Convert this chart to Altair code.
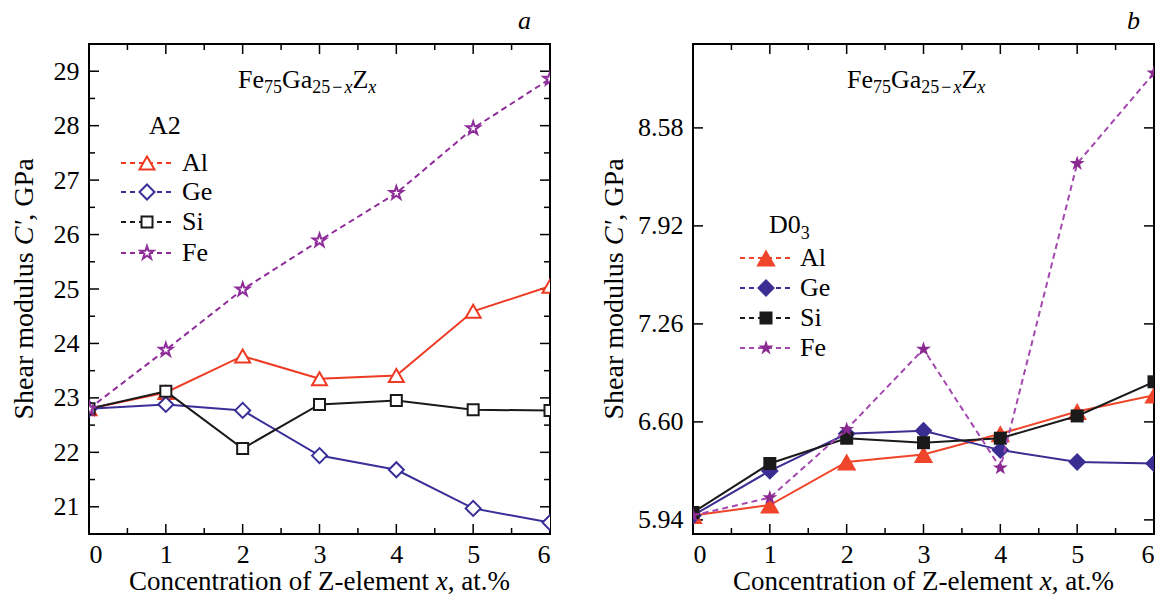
import altair as alt
import pandas as pd

# ---------------- data ----------------
x_vals = [0, 1, 2, 3, 4, 5, 6]
series_names = ["Al", "Ge", "Si", "Fe"]

# panel a (A2 structure)
a_al = [22.80, 23.10, 23.77, 23.35, 23.41, 24.59, 25.05]
a_ge = [22.80, 22.88, 22.77, 21.94, 21.68, 20.97, 20.71]
a_si = [22.80, 23.12, 22.07, 22.88, 22.95, 22.78, 22.77]
a_fe = [22.80, 23.88, 24.99, 25.89, 26.76, 27.95, 28.86]

# panel b (D0_3 structure)
b_al = [5.97, 6.04, 6.33, 6.38, 6.52, 6.67, 6.78]
b_ge = [5.97, 6.27, 6.52, 6.54, 6.41, 6.33, 6.32]
b_si = [5.99, 6.32, 6.49, 6.46, 6.49, 6.64, 6.87]
b_fe = [5.97, 6.09, 6.55, 7.09, 6.29, 8.34, 8.95]

a_y_ticks = [21, 22, 23, 24, 25, 26, 27, 28, 29]
a_y_minor = [20.5, 21.5, 22.5, 23.5, 24.5, 25.5, 26.5, 27.5, 28.5, 29.5]
b_y_ticks = [5.94, 6.60, 7.26, 7.92, 8.58]
x_minor = [0.5, 1.5, 2.5, 3.5, 4.5, 5.5]

x_title = ["Concentration of Z-element ", "x", ", at.%"]
y_title = ["Shear modulus ", "C'", ", GPa"]

# ---------------- style ----------------
W, H = 461, 490
FONT = "Liberation Serif"
STAR = ("M0,-1L0.2245,-0.309L0.951,-0.309L0.3633,0.118L0.5878,0.809L0,0.382"
        "L-0.5878,0.809L-0.3633,0.118L-0.951,-0.309L-0.2245,-0.309Z")

ROMAN = {' ': 250, "'": 180, '%': 833, ',': 250, '-': 333, '.': 250, 'A': 722,
         'C': 667, 'D': 722, 'F': 556, 'G': 722, 'P': 556, 'S': 556, 'Z': 611,
         'a': 444, 'c': 444, 'd': 500, 'e': 444, 'f': 333, 'h': 500, 'i': 278,
         'l': 278, 'm': 778, 'n': 500, 'o': 500, 'r': 333, 's': 389, 't': 278,
         'u': 500, 'x': 500, '\u2212': 564}
ITALIC = {'x': 444, 'C': 667, "'": 214, 'a': 500}


def tw(s, size, italic=False):
    tab = ITALIC if italic else ROMAN
    return sum(tab.get(ch, ROMAN.get(ch, 500)) for ch in s) * size / 1000.0


ONE = pd.DataFrame({"k": [0]})


def txt(s, x, y, size=26, italic=False, angle=0, align="left"):
    kw = dict(text=s, font=FONT, fontSize=size, color="black", align=align,
              baseline="alphabetic")
    if italic:
        kw["fontStyle"] = "italic"
    if angle:
        kw["angle"] = angle
    return alt.Chart(ONE).mark_text(**kw).encode(x=alt.value(x), y=alt.value(y))


def run(pieces, x0, y0, angle=0):
    """pieces: (text, size, italic, shift, gap_before)"""
    layers, off = [], 0.0
    for s, size, it, shift, gap in pieces:
        off += gap
        if angle == 0:
            layers.append(txt(s, x0 + off, y0 + shift, size, it))
        else:
            layers.append(txt(s, x0 + shift, y0 - off, size, it, angle=270))
        off += tw(s, size, it)
    return layers


def width_of(pieces):
    return sum(tw(s, size, it) + gap for s, size, it, shift, gap in pieces)


def formula_pieces():
    return [("Fe", 26, False, 0, 0), ("75", 18, False, 5, 0),
            ("Ga", 26, False, 0, 0), ("25", 18, False, 5, 0),
            ("\u2212", 18, False, 5, 2), ("x", 18, True, 5, 2),
            ("Z", 26, False, 0, 0), ("x", 18, True, 5, 0)]


def make_panel(vals, colors, line_colors, dashes, shapes, sizes, filled,
               y_dom, y_major, y_minor, y_fmt, leg, head, tag, tag_x, ytx):
    xs = alt.Scale(domain=[0, 6], nice=False, zero=False)
    ys = alt.Scale(domain=y_dom, nice=False, zero=False)
    yax = alt.Axis(values=y_major, format=y_fmt, title=None, ticks=False, domain=False,
                   grid=False, labelPadding=10, labelFont=FONT, labelFontSize=26,
                   labelColor="black")
    xax = alt.Axis(values=x_vals, format="d", title=None, ticks=False, domain=False,
                   grid=False, labelPadding=7, labelFont=FONT, labelFontSize=26,
                   labelColor="black")

    def X(f):
        return alt.X(f, scale=xs, axis=xax)

    def Y(f):
        return alt.Y(f, scale=ys, axis=yax)

    layers = []
    # tick marks (inside, mirrored)
    ymaj = pd.DataFrame({"v": y_major})
    xmaj = pd.DataFrame({"v": x_vals})
    rk = dict(color="black", strokeWidth=1.5)
    layers.append(alt.Chart(ymaj).mark_rule(**rk).encode(
        y=Y("v:Q"), x=alt.value(0), x2=alt.value(10)))
    layers.append(alt.Chart(ymaj).mark_rule(**rk).encode(
        y=Y("v:Q"), x=alt.value(W - 10), x2=alt.value(W)))
    if y_minor:
        ymin = pd.DataFrame({"v": y_minor})
        layers.append(alt.Chart(ymin).mark_rule(**rk).encode(
            y=Y("v:Q"), x=alt.value(0), x2=alt.value(6)))
        layers.append(alt.Chart(ymin).mark_rule(**rk).encode(
            y=Y("v:Q"), x=alt.value(W - 6), x2=alt.value(W)))
    layers.append(alt.Chart(xmaj).mark_rule(**rk).encode(
        x=X("v:Q"), y=alt.value(H - 10), y2=alt.value(H)))
    layers.append(alt.Chart(xmaj).mark_rule(**rk).encode(
        x=X("v:Q"), y=alt.value(0), y2=alt.value(10)))
    xmin = pd.DataFrame({"v": x_minor})
    layers.append(alt.Chart(xmin).mark_rule(**rk).encode(
        x=X("v:Q"), y=alt.value(H - 6), y2=alt.value(H)))
    layers.append(alt.Chart(xmin).mark_rule(**rk).encode(
        x=X("v:Q"), y=alt.value(0), y2=alt.value(6)))

    # data series
    for i, name in enumerate(series_names):
        d = pd.DataFrame({"x": x_vals, "v": vals[i]})
        lkw = dict(color=line_colors[i], strokeWidth=2, clip=True)
        if dashes[i]:
            lkw["strokeDash"] = dashes[i]
        layers.append(alt.Chart(d).mark_line(**lkw).encode(x=X("x:Q"), y=Y("v:Q")))
        if filled:
            pkw = dict(shape=shapes[i], size=sizes[i], filled=True, color=colors[i],
                       opacity=1, strokeWidth=1, clip=True)
        else:
            pkw = dict(shape=shapes[i], size=sizes[i], filled=False, stroke=colors[i],
                       fill="white", fillOpacity=1, opacity=1, strokeWidth=2, clip=True)
        layers.append(alt.Chart(d).mark_point(**pkw).encode(x=X("x:Q"), y=Y("v:Q")))

    # in-plot legend
    lx0, lx1, mx, tx, rows = leg["lx0"], leg["lx1"], leg["mx"], leg["tx"], leg["rows"]
    for i, name in enumerate(series_names):
        ry = rows[i]
        layers.append(alt.Chart(ONE).mark_rule(color=line_colors[i], strokeWidth=2,
                                               strokeDash=[5, 4]).encode(
            x=alt.value(lx0), x2=alt.value(lx1), y=alt.value(ry)))
        if filled:
            pkw = dict(shape=shapes[i], size=sizes[i], filled=True, color=colors[i],
                       opacity=1, strokeWidth=1)
        else:
            pkw = dict(shape=shapes[i], size=sizes[i], filled=False, stroke=colors[i],
                       fill="white", fillOpacity=1, opacity=1, strokeWidth=2)
        layers.append(alt.Chart(ONE).mark_point(**pkw).encode(
            x=alt.value(mx), y=alt.value(ry)))
        layers.append(txt(name, tx, ry + 8, 26))
    layers += run(leg["title"], leg["title_x"], leg["title_y"])

    # formula header
    layers += run(formula_pieces(), head[0], head[1])
    # panel tag
    layers.append(txt(tag, tag_x, -15, 26, italic=True, align="right"))

    # axis titles composed with italics
    xt = [(x_title[0], 27, False, 0, 0), (x_title[1], 27, True, 0, 0),
          (x_title[2], 27, False, 0, 0)]
    layers += run(xt, W / 2 - width_of(xt) / 2, 546)
    yt = [(y_title[0], 28, False, 0, 0), (y_title[1], 28, True, 0, 0),
          (y_title[2], 28, False, 0, 0)]
    layers += run(yt, ytx, H / 2 + width_of(yt) / 2, angle=270)

    return alt.layer(*layers).properties(width=W, height=H)


left = make_panel(
    [a_al, a_ge, a_si, a_fe],
    colors=["#EE3A23", "#3A2F98", "#1A1A1A", "#8E2C99"],
    line_colors=["#EE3A23", "#3A2F98", "#1A1A1A", "#8E2C99"],
    dashes=[None, None, None, [6, 4]],
    shapes=["triangle-up", "diamond", "square", STAR],
    sizes=[225, 225, 121, 190],
    filled=False,
    y_dom=[20.5, 29.5], y_major=a_y_ticks, y_minor=a_y_minor, y_fmt="d",
    leg=dict(lx0=32, lx1=84, mx=58, tx=93, rows=[119, 148, 178, 209],
             title=[("A2", 26, False, 0, 0)], title_x=60, title_y=90),
    head=(149, 44), tag="a", tag_x=442, ytx=-56)

right = make_panel(
    [b_al, b_ge, b_si, b_fe],
    colors=["#F0452A", "#3B2E92", "#1A1A1A", "#8A2A90"],
    line_colors=["#F0452A", "#3B2E92", "#1A1A1A", "#A448B0"],
    dashes=[None, None, None, [6, 4]],
    shapes=["triangle-up", "diamond", "square", STAR],
    sizes=[380, 320, 169, 250],
    filled=True,
    y_dom=[5.845, 9.145], y_major=b_y_ticks, y_minor=None, y_fmt=".2f",
    leg=dict(lx0=47, lx1=99, mx=73, tx=107, rows=[214, 244, 274, 304],
             title=[("D0", 26, False, 0, 0), ("3", 18, False, 6, 0)],
             title_x=76, title_y=189),
    head=(154, 44), tag="b", tag_x=447, ytx=-70)

chart = alt.hconcat(left, right, spacing=48).properties(
    padding={"left": 10, "top": 7, "right": 5, "bottom": 5},
    background="white",
).configure_view(stroke="black", strokeWidth=2)

chart.save("out.html", embed_options={"renderer": "svg", "actions": False})
